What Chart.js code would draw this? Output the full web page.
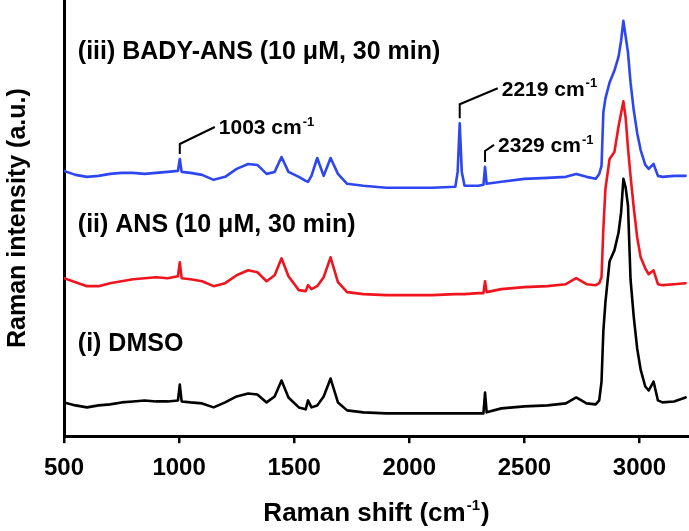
<!DOCTYPE html>
<html>
<head>
<meta charset="utf-8">
<script src="https://cdn.jsdelivr.net/npm/chart.js@4.4.1/dist/chart.umd.min.js"></script>
<style>
  html, body { margin: 0; padding: 0; background: #fff; }
  #c { display: block; }
</style>
</head>
<body>
<canvas id="c" width="689" height="531"></canvas>
<script>
// Raman shift (cm-1), shared by the three spectra
const shift = [500, 550, 600, 650, 700, 750, 800, 850, 900, 950,
  995, 1003, 1011,
  1050, 1100, 1150, 1200, 1250, 1300, 1340, 1380,
  1415, 1445, 1475,
  1520, 1550, 1560, 1575, 1600, 1628, 1658, 1690, 1730,
  1800, 1900, 2000, 2100, 2200,
  2210, 2219, 2228, 2240,
  2300, 2322, 2329, 2336,
  2400, 2500, 2600, 2680, 2725, 2770,
  2810, 2825, 2835, 2843, 2852, 2870, 2891, 2909, 2920, 2930, 2940, 2950, 2961, 2975, 2990, 3005, 3025, 3040, 3061, 3080, 3100, 3150, 3200];

// intensities (a.u.), already offset as in the figure
const dmso = [34, 31, 29, 31, 32, 34, 35, 36, 35, 35,
  36, 52, 35,
  34, 33, 29, 34, 40, 43, 42, 34,
  40, 56, 39,
  29, 27, 36, 29, 31, 40, 58, 34, 26,
  24, 23, 23, 23, 23,
  23, 23, 23, 23,
  23, 23, 44, 24,
  28, 30, 31, 33, 39, 33,
  32, 36, 55, 106, 135, 176, 187, 205, 225, 259, 250, 232, 158, 120, 88, 67, 50, 46, 55, 36, 34, 35, 39];

const ans = [159, 155, 151, 151, 154, 156, 158, 159, 160, 159,
  161, 175, 159,
  158, 156, 151, 154, 162, 167, 165, 156,
  162, 179, 161,
  147, 146, 152, 148, 151, 160, 180, 155, 145,
  143, 142, 142, 142, 143,
  143, 143, 143, 143,
  144, 144, 156, 145,
  148, 150, 151, 153, 159, 153,
  152, 154, 160, 209, 249, 279, 286, 312, 325, 337, 320, 290, 262, 230, 200, 180, 169, 163, 167, 153, 152, 153, 154];

const badyAns = [267, 263, 261, 262, 264, 265, 265, 264, 265, 266,
  267, 279, 266,
  265, 263, 258, 261, 269, 274, 273, 264,
  266, 281, 266,
  261, 257, 256, 262, 280, 262, 280, 264, 254,
  252, 250, 250, 250, 251,
  266, 315, 266, 252,
  252, 253, 271, 254,
  256, 259, 260, 261, 264, 261,
  259, 264, 272, 326, 340, 356, 368, 382, 398, 418, 402, 386, 356, 328, 305, 288, 273, 269, 274, 262, 261, 262, 262];

const xTicks = [500, 1000, 1500, 2000, 2500, 3000];
const seriesNames = ['(i) DMSO', '(ii) ANS (10 \u03bcM, 30 min)', '(iii) BADY-ANS (10 \u03bcM, 30 min)'];
const peakShifts = [1003, 2219, 2329];

const FONT = '"Liberation Sans", Arial, Helvetica, sans-serif';
Chart.defaults.font.family = FONT;
Chart.defaults.color = '#000';

function pts(arr) {
  return shift.map((s, i) => ({ x: s, y: arr[i] }));
}

// text with a superscript part, e.g. cm^-1
function supText(ctx, x, y, base, sup, tail, size, supSize) {
  ctx.font = 'bold ' + size + 'px ' + FONT;
  ctx.textBaseline = 'alphabetic';
  ctx.textAlign = 'left';
  ctx.fillText(base, x, y);
  let w = ctx.measureText(base).width;
  ctx.font = 'bold ' + supSize + 'px ' + FONT;
  ctx.fillText(sup, x + w + 1, y - size * 0.42);
  w += ctx.measureText(sup).width + 1;
  if (tail) {
    ctx.font = 'bold ' + size + 'px ' + FONT;
    ctx.fillText(tail, x + w + 1, y);
  }
}

function supWidth(ctx, base, sup, tail, size, supSize) {
  ctx.font = 'bold ' + size + 'px ' + FONT;
  let w = ctx.measureText(base).width + ctx.measureText(tail).width + 2;
  ctx.font = 'bold ' + supSize + 'px ' + FONT;
  return w + ctx.measureText(sup).width;
}

const notes = {
  id: 'notes',
  afterDatasetsDraw(chart, args, opts) {
    const { ctx, scales: { x, y }, chartArea } = chart;
    ctx.save();
    ctx.fillStyle = '#000';
    ctx.strokeStyle = '#000';

    // spectrum labels
    ctx.font = 'bold 25px ' + FONT;
    ctx.textBaseline = 'alphabetic';
    ctx.textAlign = 'left';
    seriesNames.forEach((name, i) => {
      ctx.fillText(name, x.getPixelForValue(opts.labelX), y.getPixelForValue(opts.labelY[i]));
    });

    // peak markers on the BADY-ANS trace
    ctx.lineWidth = 2;
    peakShifts.forEach((p, i) => {
      const g = opts.leader[i];
      const px = x.getPixelForValue(p);
      const py = y.getPixelForValue(badyAns[shift.indexOf(p)]) - 5;
      ctx.beginPath();
      ctx.moveTo(px, py);
      ctx.lineTo(px, py - g[0]);
      ctx.lineTo(px + g[1], py - g[0] - g[2]);
      ctx.stroke();
      supText(ctx, px + g[1] + 4, py - g[0] - g[2] + 7.5, p + ' cm', '-1', '', 21, 13);
    });

    // x axis title
    const base = 'Raman shift (cm', sup = '-1', tail = ')';
    const w = supWidth(ctx, base, sup, tail, 26, 15);
    const cx = (chartArea.left + chartArea.right) / 2;
    supText(ctx, cx - w / 2, 521, base, sup, tail, 26, 15);
    ctx.restore();
  }
};

new Chart(document.getElementById('c').getContext('2d'), {
  type: 'line',
  data: {
    datasets: [
      { label: seriesNames[0], data: pts(dmso), borderColor: '#000000' },
      { label: seriesNames[1], data: pts(ans), borderColor: '#f0141e' },
      { label: seriesNames[2], data: pts(badyAns), borderColor: '#2d46f0' }
    ]
  },
  options: {
    responsive: false,
    animation: false,
    elements: {
      point: { radius: 0 },
      line: { borderWidth: 2.6, tension: 0, borderCapStyle: 'round', borderJoinStyle: 'round' }
    },
    layout: { padding: { left: 0, right: 0, top: 0, bottom: 37 } },
    plugins: {
      legend: { display: false },
      tooltip: { enabled: false },
      notes: {
        labelX: 560,
        labelY: [86, 206, 380],
        leader: [[10, 35, 17], [14, 38, 16], [11, 9, 6]]
      }
    },
    scales: {
      x: {
        type: 'linear',
        min: 500,
        max: 3215,
        afterBuildTicks: (s) => { s.ticks = xTicks.map(v => ({ value: v })); },
        border: { display: true, color: '#000', width: 3 },
        grid: { display: true, drawOnChartArea: false, drawTicks: true, tickLength: 7, color: '#000', lineWidth: 2.5 },
        ticks: {
          font: { size: 24, weight: 'bold' },
          color: '#000',
          padding: 11,
          maxRotation: 0,
          callback: (v) => String(v)
        }
      },
      y: {
        min: 0,
        max: 439,
        border: { display: true, color: '#000', width: 3 },
        grid: { display: false, drawTicks: false },
        ticks: { display: false },
        title: {
          display: true,
          text: 'Raman intensity (a.u.)',
          font: { size: 25, weight: 'bold' },
          color: '#000',
          padding: { top: 3, bottom: 31 }
        }
      }
    }
  },
  plugins: [notes]
});
</script>
</body>
</html>
